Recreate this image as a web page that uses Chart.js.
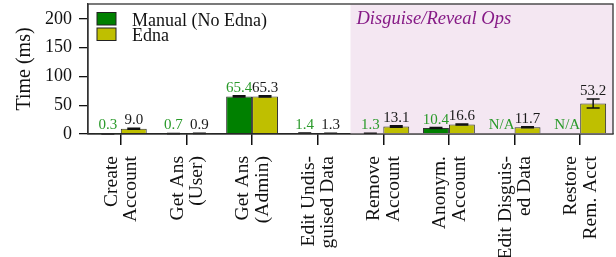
<!DOCTYPE html>
<html><head><meta charset="utf-8">
<script src="https://cdn.jsdelivr.net/npm/chart.js@4/dist/chart.umd.min.js"></script>
<style>html,body{margin:0;padding:0;background:#fff;overflow:hidden}#wrap{width:616px;height:257px;}</style>
</head><body><div id="wrap"><canvas id="c" width="616" height="257"></canvas></div>
<script>
const categories = [["Create","Account"],["Get Ans","(User)"],["Get Ans","(Admin)"],["Edit Undis-","guised Data"],["Remove","Account"],["Anonym.","Account"],["Edit Disguis-","ed Data"],["Restore","Rem. Acct"]];
const seriesNames = ["Manual (No Edna)","Edna"];
const manualValues = [0.3, 0.7, 65.4, 1.4, 1.3, 10.4, null, null];
const ednaValues = [9.0, 0.9, 65.3, 1.3, 13.1, 16.6, 11.7, 53.2];
const manualErrors = [0.2, 0.2, 1.0, 0.2, 0.2, 0.8, null, null];
const ednaErrors = [0.8, 0.2, 1.0, 0.2, 1.2, 1.0, 0.8, 7.8];
const yTicks = [0, 50, 100, 150, 200];
const yMax = 226;
const regionStartIndex = 4;
const regionLabel = "Disguise/Reveal Ops";
const naLabel = "N/A";

const SERIF = '"Liberation Serif", "Times New Roman", serif';
const GREEN = '#008000', YELLOW = '#bfbf00';
const errorsBySeries = [manualErrors, ednaErrors];
const labelColors = ['#2a9a2a', '#1a1a1a'];

const decor = {
  id: 'decor',
  beforeDatasetsDraw(chart) {
    const {ctx, chartArea: a, scales: {x}} = chart;
    const xs = (x.getPixelForValue(regionStartIndex - 1) + x.getPixelForValue(regionStartIndex)) / 2;
    ctx.save();
    ctx.fillStyle = '#f4e7f2';
    ctx.fillRect(xs, a.top, a.right - xs, a.bottom - a.top);
    ctx.fillStyle = '#861a86';
    ctx.font = 'italic 18.5px ' + SERIF;
    ctx.textBaseline = 'alphabetic';
    ctx.textAlign = 'left';
    ctx.fillText(regionLabel, xs + 6, a.top + 20);
    ctx.restore();
  },
  afterDatasetsDraw(chart) {
    const {ctx, chartArea: a, scales: {y}} = chart;
    ctx.save();
    chart.data.datasets.forEach((ds, di) => {
      const meta = chart.getDatasetMeta(di);
      const errs = errorsBySeries[di];
      ds.data.forEach((v, i) => {
        if (v === null || errs[i] === null) return;
        const bx = meta.data[i].x;
        const yt = y.getPixelForValue(v + errs[i]);
        const yb = y.getPixelForValue(Math.max(0, v - errs[i]));
        ctx.strokeStyle = '#111';
        ctx.lineWidth = 1.5;
        ctx.beginPath();
        ctx.moveTo(bx, yt); ctx.lineTo(bx, yb);
        ctx.moveTo(bx - 6.5, yt); ctx.lineTo(bx + 6.5, yt);
        ctx.moveTo(bx - 6.5, yb); ctx.lineTo(bx + 6.5, yb);
        ctx.stroke();
      });
    });
    ctx.font = '15px ' + SERIF;
    ctx.textAlign = 'center';
    ctx.textBaseline = 'alphabetic';
    const base = y.getPixelForValue(0);
    chart.data.datasets.forEach((ds, di) => {
      const meta = chart.getDatasetMeta(di);
      const errs = errorsBySeries[di];
      ds.data.forEach((v, i) => {
        const bx = meta.data[i].x;
        ctx.fillStyle = labelColors[di];
        if (v === null) { ctx.fillText(naLabel, bx, base - 5); return; }
        const top = y.getPixelForValue(v + (errs[i] || 0));
        ctx.fillText(v.toFixed(1), bx, Math.min(base - 5, top - 4));
      });
    });
    ctx.strokeStyle = '#333';
    ctx.lineWidth = 1.3;
    ctx.strokeRect(a.left, a.top, a.right - a.left, a.bottom - a.top);
    const colors = [GREEN, YELLOW];
    const lx = a.left + 9, ly = [12.5, 28];
    ctx.font = '18px ' + SERIF;
    ctx.textAlign = 'left';
    seriesNames.forEach((n, k) => {
      ctx.fillStyle = colors[k];
      ctx.fillRect(lx, ly[k], 19, 12.5);
      ctx.strokeStyle = '#222'; ctx.lineWidth = 1;
      ctx.strokeRect(lx, ly[k], 19, 12.5);
      ctx.fillStyle = '#111';
      ctx.fillText(n, lx + 35, ly[k] + 13);
    });
    ctx.restore();
  }
};

new Chart(document.getElementById('c'), {
  type: 'bar',
  data: {
    labels: categories,
    datasets: [
      {label: seriesNames[0], data: manualValues, backgroundColor: GREEN, borderColor: '#333', borderWidth: 1},
      {label: seriesNames[1], data: ednaValues, backgroundColor: YELLOW, borderColor: '#333', borderWidth: 1}
    ]
  },
  options: {
    responsive: false,
    animation: false,
    devicePixelRatio: 1,
    layout: {padding: {top: 4, right: 3, left: 0, bottom: 0}},
    datasets: {bar: {categoryPercentage: 0.79, barPercentage: 1.0}},
    plugins: {legend: {display: false}, tooltip: {enabled: false}},
    scales: {
      x: {
        grid: {drawOnChartArea: false, offset: false, tickLength: 11, color: '#111', lineWidth: 1.5},
        border: {color: '#111', width: 1.3},
        ticks: {autoSkip: false, minRotation: 90, maxRotation: 90, padding: 11, labelOffset: -9, color: '#111',
                font: {family: SERIF, size: 19.5, lineHeight: 1.0}},
        afterFit(s) { s.height = 123; s.paddingLeft = 0; s.paddingRight = 0; s.paddingTop = 0; s.paddingBottom = 0; }
      },
      y: {
        min: 0, max: yMax,
        afterBuildTicks(s) { s.ticks = yTicks.map(v => ({value: v})); },
        grid: {drawOnChartArea: false, tickLength: 9, color: '#111', lineWidth: 1.3},
        border: {color: '#333', width: 1.3},
        ticks: {padding: 7, color: '#111', font: {family: SERIF, size: 18}},
        title: {display: true, text: 'Time (ms)', color: '#111', font: {family: SERIF, size: 20}, padding: {top: 13, bottom: 0}},
        afterFit(s) { s.width = 88; s.paddingTop = 0; s.paddingBottom = 0; s.paddingLeft = 0; s.paddingRight = 0; }
      }
    }
  },
  plugins: [decor]
});
</script></body></html>
